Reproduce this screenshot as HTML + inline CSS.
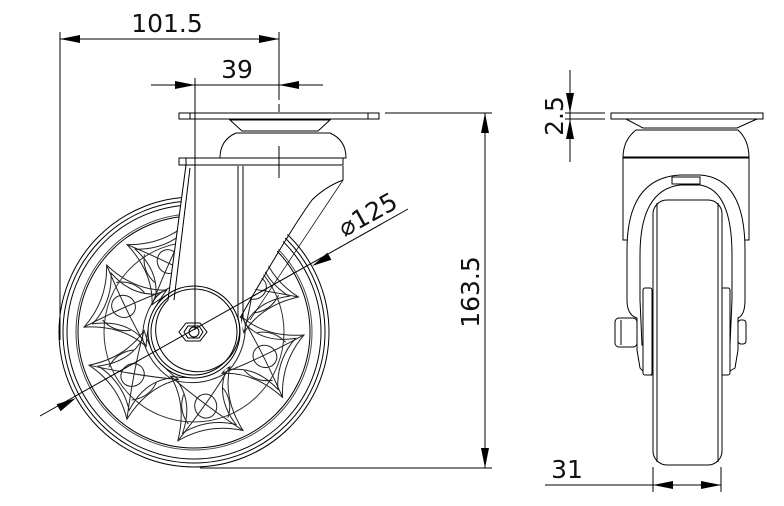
<!DOCTYPE html>
<html><head><meta charset="utf-8"><style>
html,body{margin:0;padding:0;background:#fff;}
svg{display:block}
text{font-family:"DejaVu Sans","Liberation Sans",sans-serif;fill:#111;}
</style></head><body>
<svg width="784" height="506" viewBox="0 0 784 506" xmlns="http://www.w3.org/2000/svg">
<defs>
<g id="lobe" fill="none" stroke="#222" stroke-width="1">
<path d="M40,-30 Q70,-18 105,-33 Q92,0 105,33 Q70,18 40,30 Q50,0 40,-30 Z"/>
<path d="M46,-24 Q70,-12 98,-27 Q87,0 98,27 Q70,12 46,24 Q55,0 46,-24 Z"/>
<ellipse cx="75" cy="0" rx="12" ry="11"/>
<path d="M40,-30 Q70,-5 105,33 M40,30 Q70,5 105,-33"/>
<path d="M60,-20 Q75,-28 90,-20 M60,20 Q75,28 90,20"/>
</g>
</defs>
<g fill="none" stroke="#000" stroke-width="1">
<circle cx="194" cy="332" r="135"/>
<circle cx="194" cy="332" r="131"/>
<circle cx="194" cy="332" r="127"/>
<circle cx="194" cy="332" r="118" stroke="#444"/>
<circle cx="194" cy="332" r="116"/>
<circle cx="194" cy="332" r="90" stroke="#333"/>
</g>
<g>
<use href="#lobe" transform="translate(194,332) rotate(81)"/>
<use href="#lobe" transform="translate(194,332) rotate(145)"/>
<use href="#lobe" transform="translate(194,332) rotate(200)"/>
<use href="#lobe" transform="translate(194,332) rotate(250)"/>
<use href="#lobe" transform="translate(194,332) rotate(19)"/>
<use href="#lobe" transform="translate(194,332) rotate(-36)"/>
</g>
<g fill="#fff" stroke="#000" stroke-width="1">
<path d="M186,165 L168,300 A45,45 0 1 0 240,318 L240,165 Z" stroke="none"/>
<path d="M240,318 L236,166 L343,166 L343,180 Q335,185 322,190 Q300,205 240,318 Z" stroke="none"/>
<circle cx="194" cy="332" r="46"/>
<circle cx="194" cy="332" r="43"/>
<path d="M186,165 L168,300 A42,42 0 1 0 238,318" fill="none"/>
<path d="M190,168 L174,300" fill="none"/>
<path d="M343,166 L343,180 Q325,187 312,200 Q290,230 240,318" fill="none"/>
<path d="M343,180 Q330,200 250,320" fill="none" stroke-width="0.7"/>
<line x1="238" y1="166" x2="238" y2="320"/>
<line x1="243" y1="166" x2="243" y2="318"/>
<rect x="179" y="158" width="164" height="7"/>
<line x1="186" y1="158" x2="186" y2="165"/>
<path d="M220,158 Q220,140 236,133 L330,133 Q346,140 346,158 Z"/>
<path d="M230,120 L330,120 L318,131 L242,131 Z"/>
<line x1="236" y1="133" x2="330" y2="133"/>
<rect x="179" y="113" width="200" height="6"/>
<line x1="190" y1="113" x2="190" y2="119"/><line x1="368" y1="113" x2="368" y2="119"/>
<polygon points="186,323 200,323 207,332 200,341 186,341 179,332"/>
<polygon points="188,326 199,326 203,332 199,338 188,338 184,332"/>
<circle cx="194" cy="332" r="5"/>
</g>
<g stroke="#000" stroke-width="1" fill="none">
<line x1="60" y1="32" x2="60" y2="340"/>
<line x1="279" y1="32" x2="279" y2="100"/>
<line x1="279" y1="104" x2="279" y2="112"/>
<line x1="279" y1="146" x2="279" y2="178"/>
<line x1="60" y1="39" x2="279" y2="39"/>
<line x1="195" y1="78" x2="195" y2="330"/>
<line x1="151" y1="85" x2="323" y2="85"/>
<line x1="385" y1="113" x2="492" y2="113"/>
<line x1="200" y1="468" x2="492" y2="468"/>
<line x1="485" y1="113" x2="485" y2="468"/>
<line x1="40" y1="416" x2="408" y2="209"/>
<line x1="565" y1="113" x2="605" y2="113"/>
<line x1="565" y1="119" x2="605" y2="119"/>
<line x1="570" y1="70" x2="570" y2="162"/>
<line x1="653" y1="467" x2="653" y2="492"/>
<line x1="721" y1="467" x2="721" y2="492"/>
<line x1="545" y1="485" x2="721" y2="485"/>
</g>
<g fill="#000" stroke="none">
<polygon points="60,39 80,35 80,43"/>
<polygon points="279,39 259,35 259,43"/>
<polygon points="195,85 175,81 175,89"/>
<polygon points="279,85 299,81 299,89"/>
<polygon points="485,113 481,133 489,133"/>
<polygon points="485,468 481,448 489,448"/>
<polygon points="76,398 60.6,411.3 56.6,404.3"/>
<polygon points="312,266 331.4,259.7 327.4,252.7"/>
<polygon points="570,113 566,93 574,93"/>
<polygon points="570,119 566,139 574,139"/>
<polygon points="653,485 673,481 673,489"/>
<polygon points="721,485 701,481 701,489"/>
</g>
<text x="167" y="32" font-size="25" text-anchor="middle">101.5</text>
<text x="237" y="78" font-size="25" text-anchor="middle">39</text>
<text x="0" y="0" font-size="25" text-anchor="middle" transform="translate(479,292) rotate(-90)">163.5</text>
<text x="0" y="0" font-size="25" text-anchor="middle" transform="translate(372,222) rotate(-29)">⌀125</text>
<g fill="#fff" stroke="#000" stroke-width="1">
<path d="M623,158 L623,240 L749,240 L749,158 Z"/>
<path d="M627,250 Q627,178 680,175 L700,175 Q745,178 745,250 L745,300 Q745,315 738,318 L738,350 L735,368 Q728,372 725,375 L650,375 Q643,372 640,368 L637,350 L637,318 Q627,315 627,300 Z"/>
<path d="M640,255 Q640,190 680,185 L700,185 Q732,190 732,255 L732,300 L730,345 L642,345 L640,300 Z"/>
<rect x="672" y="177" width="28" height="7"/>
<rect x="643" y="288" width="9" height="87" rx="2"/>
<rect x="721" y="288" width="9" height="87" rx="2"/>
<rect x="653" y="200" width="69" height="265" rx="14"/>
<line x1="657" y1="203" x2="657" y2="462"/><line x1="718" y1="203" x2="718" y2="462"/>
<rect x="615" y="318" width="22" height="29" rx="4"/>
<line x1="621" y1="320" x2="621" y2="345"/>
<rect x="738" y="320" width="8" height="24" rx="3"/>
<path d="M623,158 Q623,140 636,130 L738,130 Q749,140 749,158 Z"/>
<line x1="623" y1="157" x2="749" y2="157"/>
<path d="M626,119 L757,119 L737,128 L643,128 Z"/>
<rect x="611" y="113" width="152" height="6"/>
</g>
<text x="0" y="0" font-size="25" text-anchor="middle" transform="translate(563,116) rotate(-90)">2.5</text>
<text x="567" y="478" font-size="25" text-anchor="middle">31</text>
</svg>
</body></html>
